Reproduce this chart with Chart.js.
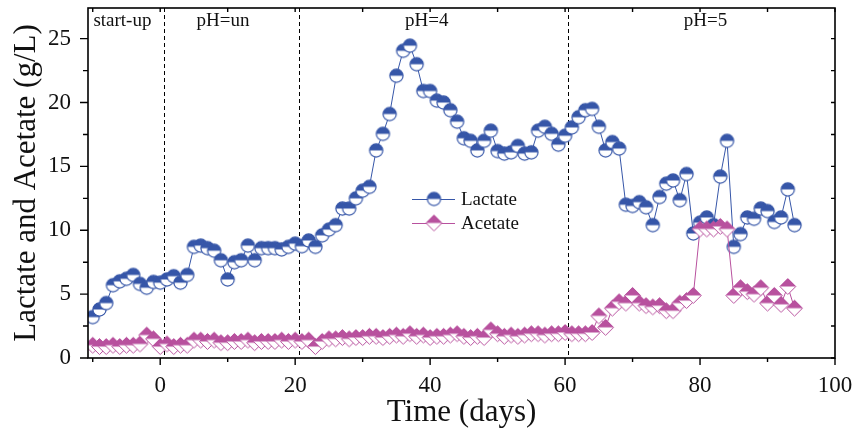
<!DOCTYPE html>
<html lang="en">
<head>
  <meta charset="UTF-8" />
  <title>Lactate and Acetate</title>
  <script src="https://cdn.jsdelivr.net/npm/chart.js"></script>
  <style>
    html, body { margin: 0; padding: 0; background: #fff; }
    #wrap { position: relative; width: 858px; height: 438px; }
  </style>
</head>
<body>
  <div id="wrap"><canvas id="chart" width="858" height="438"></canvas></div>

  <script>
    // Time (days), one sample per day
    const days = [
      -10, -9, -8, -7, -6, -5, -4, -3, -2, -1,
      0, 1, 2, 3, 4, 5, 6, 7, 8, 9,
      10, 11, 12, 13, 14, 15, 16, 17, 18, 19,
      20, 21, 22, 23, 24, 25, 26, 27, 28, 29,
      30, 31, 32, 33, 34, 35, 36, 37, 38, 39,
      40, 41, 42, 43, 44, 45, 46, 47, 48, 49,
      50, 51, 52, 53, 54, 55, 56, 57, 58, 59,
      60, 61, 62, 63, 64, 65, 66, 67, 68, 69,
      70, 71, 72, 73, 74, 75, 76, 77, 78, 79,
      80, 81, 82, 83, 84, 85, 86, 87, 88, 89,
      90, 91, 92, 93, 94
    ];

    // Lactate (g/L)
    const lactate = [
      3.2, 3.8, 4.3, 5.7, 6.0, 6.2, 6.5, 5.8, 5.5, 5.95,
      5.9, 6.15, 6.4, 5.9, 6.5, 8.7, 8.8, 8.6, 8.4, 7.65,
      6.15, 7.5, 7.65, 8.8, 7.65, 8.6, 8.6, 8.6, 8.5, 8.7,
      8.95, 8.75, 9.2, 8.7, 9.6, 10.05, 10.4, 11.7, 11.7, 12.5,
      13.1, 13.4, 16.25, 17.55, 19.1, 22.1, 24.05, 24.45, 23.0, 20.9,
      20.9, 20.15, 20.0, 19.4, 18.5, 17.2, 17.0, 16.25, 17.0, 17.8,
      16.2, 16.0, 16.1, 16.6, 16.0, 16.1, 17.8, 18.1, 17.55, 16.7,
      17.4, 18.05, 18.85, 19.4, 19.5, 18.1, 16.25, 16.9, 16.4, 12.0,
      11.9, 12.2, 11.8, 10.4, 12.6, 13.65, 13.9, 12.35, 14.4, 9.75,
      10.6, 11.0, 10.4, 14.2, 17.0, 8.7, 9.7, 11.0, 10.9, 11.7,
      11.5, 10.65, 11.0, 13.2, 10.4
    ];

    // Acetate (g/L)
    const acetate = [
      1.0, 0.9, 0.9, 1.0, 0.9, 1.0, 1.0, 1.1, 1.8, 1.5,
      0.9, 1.1, 0.9, 1.0, 1.0, 1.4, 1.4, 1.3, 1.4, 1.2,
      1.2, 1.3, 1.3, 1.4, 1.2, 1.3, 1.3, 1.3, 1.4, 1.3,
      1.4, 1.3, 1.4, 0.9, 1.3, 1.5, 1.5, 1.6, 1.5, 1.6,
      1.6, 1.7, 1.7, 1.6, 1.7, 1.8, 1.7, 1.9, 1.7, 1.8,
      1.6, 1.7, 1.7, 1.8, 1.9, 1.7, 1.6, 1.7, 1.6, 2.2,
      1.9, 1.7, 1.8, 1.7, 1.8, 1.9, 1.9, 1.8, 1.9, 1.9,
      2.0, 1.9, 1.9, 1.9, 2.0, 3.3, 2.4, 3.9, 4.4, 4.3,
      4.9, 4.3, 4.1, 4.0, 4.1, 3.7, 3.7, 4.3, 4.5, 4.9,
      10.1, 10.1, 10.1, 10.3, 10.1, 4.9, 5.5, 5.2, 5.0, 5.5,
      4.3, 4.9, 4.2, 5.6, 3.9
    ];

    // phases: dashed boundaries and their names
    const phaseBounds = [0.5, 20.5, 60.5];
    const phaseNames = ["start-up", "pH=un", "pH=4", "pH=5"];
    const phaseLabelX = [-5.6, 9.3, 39.5, 80.8];

    const xTicks = [0, 20, 40, 60, 80, 100];
    const yTicks = [0, 5, 10, 15, 20, 25];

    const BLUE = "#3656a8";
    const PINK = "#b8519e";
    const SERIF = "'Liberation Serif', 'Times New Roman', serif";

    // half filled markers (top half coloured, bottom half white)
    function halfMarker(shape, r, color, lw) {
      const size = Math.ceil(2 * r + lw + 2);
      const c = document.createElement("canvas");
      c.width = size;
      c.height = size;
      const g = c.getContext("2d");
      const m = size / 2;
      const path = () => {
        g.beginPath();
        if (shape === "circle") {
          g.arc(m, m, r, 0, Math.PI * 2);
        } else {
          g.moveTo(m, m - r);
          g.lineTo(m + r, m);
          g.lineTo(m, m + r);
          g.lineTo(m - r, m);
          g.closePath();
        }
      };
      path();
      g.fillStyle = "#fff";
      g.fill();
      g.save();
      g.beginPath();
      g.rect(0, 0, size, m);
      g.clip();
      path();
      g.fillStyle = color;
      g.fill();
      g.restore();
      path();
      g.strokeStyle = color;
      g.lineWidth = lw;
      g.stroke();
      return c;
    }

    const circleMark = halfMarker("circle", 6.6, BLUE, 1.2);
    const diamondMark = halfMarker("diamond", 8, PINK, 1);

    // frame, ticks, phase lines and the inside legend
    const decor = {
      id: "decor",
      beforeDatasetsDraw(chart) {
        const { ctx, chartArea: a, scales: { x } } = chart;
        ctx.save();
        ctx.strokeStyle = "#000";
        ctx.lineWidth = 1;
        ctx.setLineDash([4, 3]);
        phaseBounds.forEach(v => {
          const px = Math.round(x.getPixelForValue(v)) + 0.5;
          ctx.beginPath();
          ctx.moveTo(px, a.top);
          ctx.lineTo(px, a.bottom);
          ctx.stroke();
        });
        ctx.setLineDash([]);
        ctx.fillStyle = "#111";
        ctx.font = "19px " + SERIF;
        ctx.textAlign = "center";
        ctx.textBaseline = "middle";
        phaseNames.forEach((t, i) => {
          ctx.fillText(t, x.getPixelForValue(phaseLabelX[i]), a.top + 13);
        });
        ctx.restore();
      },
      afterDraw(chart) {
        const { ctx, chartArea: a, scales: { x, y } } = chart;
        ctx.save();
        ctx.strokeStyle = "#000";
        ctx.lineWidth = 1.6;
        ctx.strokeRect(a.left, a.top, a.right - a.left, a.bottom - a.top);

        ctx.lineWidth = 1.4;
        ctx.beginPath();
        for (let v = -10; v <= 100; v += 10) {
          const px = x.getPixelForValue(v);
          const len = v % 20 === 0 ? 7 : 4;
          ctx.moveTo(px, a.bottom);
          ctx.lineTo(px, a.bottom + len);
          ctx.moveTo(px, a.top);
          ctx.lineTo(px, a.top + 4);
        }
        for (let v = 0; v <= 27; v += 2.5) {
          const py = y.getPixelForValue(v);
          const len = v % 5 === 0 ? 8 : 5;
          ctx.moveTo(a.left, py);
          ctx.lineTo(a.left - len, py);
          ctx.moveTo(a.right, py);
          ctx.lineTo(a.right - 4, py);
        }
        ctx.stroke();

        // legend
        const rows = [
          { label: "Lactate", color: BLUE, mark: circleMark, y: 199 },
          { label: "Acetate", color: PINK, mark: diamondMark, y: 223 }
        ];
        ctx.font = "19px " + SERIF;
        ctx.textAlign = "left";
        ctx.textBaseline = "middle";
        rows.forEach(r => {
          ctx.strokeStyle = r.color;
          ctx.lineWidth = 1;
          ctx.beginPath();
          ctx.moveTo(412, r.y + 0.5);
          ctx.lineTo(455, r.y + 0.5);
          ctx.stroke();
          ctx.drawImage(r.mark, 434 - r.mark.width / 2, r.y - r.mark.height / 2);
          ctx.fillStyle = "#111";
          ctx.fillText(r.label, 461, r.y + 1);
        });
        ctx.restore();
      }
    };

    const tickFont = { family: SERIF, size: 23 };
    const titleFont = { family: SERIF, size: 31 };

    new Chart(document.getElementById("chart"), {
      type: "line",
      data: {
        datasets: [
          {
            label: "Lactate",
            data: days.map((d, i) => ({ x: d, y: lactate[i] })),
            borderColor: BLUE,
            borderWidth: 1,
            pointStyle: circleMark,
            pointRadius: 7,
            tension: 0,
            order: 2
          },
          {
            label: "Acetate",
            data: days.map((d, i) => ({ x: d, y: acetate[i] })),
            borderColor: PINK,
            borderWidth: 1,
            pointStyle: diamondMark,
            pointRadius: 7,
            tension: 0,
            order: 1
          }
        ]
      },
      options: {
        responsive: false,
        animation: false,
        layout: { padding: { top: 7, right: 23, left: 0, bottom: 0 } },
        plugins: {
          legend: { display: false },
          tooltip: { enabled: false }
        },
        scales: {
          x: {
            type: "linear",
            min: -10.7,
            max: 100,
            afterBuildTicks: s => { s.ticks = xTicks.map(v => ({ value: v })); },
            afterFit: s => {
              s.height = 80;
              s.paddingLeft = 0;
              s.paddingRight = 0;
            },
            grid: { display: false, drawTicks: false },
            border: { display: false },
            ticks: { font: tickFont, color: "#111", padding: 14, maxRotation: 0, autoSkip: false },
            title: {
              display: true,
              text: "Time (days)",
              font: titleFont,
              color: "#111",
              padding: { top: 0, bottom: 7 }
            }
          },
          y: {
            min: 0,
            max: 27.4,
            afterBuildTicks: s => { s.ticks = yTicks.map(v => ({ value: v })); },
            afterFit: s => {
              s.width = 88;
              s.paddingTop = 0;
              s.paddingBottom = 0;
            },
            grid: { display: false, drawTicks: false },
            border: { display: false },
            ticks: { font: tickFont, color: "#111", padding: 17 },
            title: {
              display: true,
              text: "Lactate and Acetate (g/L)",
              font: titleFont,
              color: "#111",
              padding: { top: 8, bottom: 0 }
            }
          }
        }
      },
      plugins: [decor]
    });
  </script>
</body>
</html>
